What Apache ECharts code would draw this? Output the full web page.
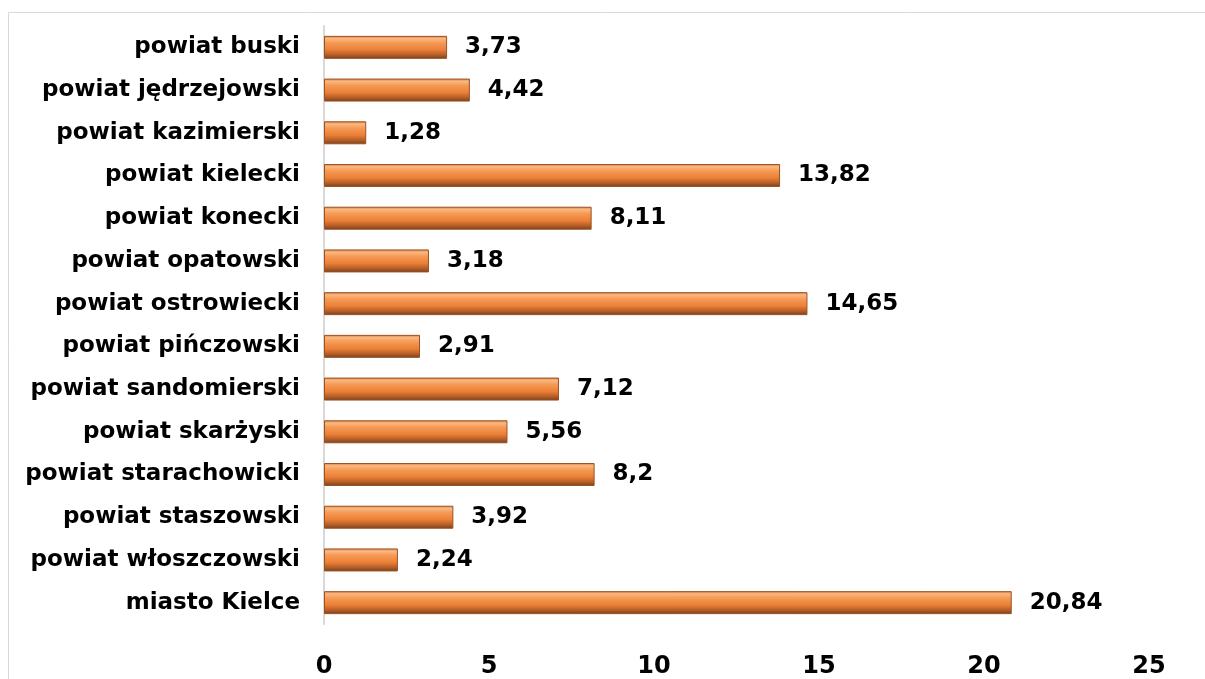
<!DOCTYPE html>
<html>
<head>
<meta charset="utf-8">
<script src="https://cdn.jsdelivr.net/npm/echarts@6/dist/echarts.min.js"></script>
<style>
  html, body { margin: 0; padding: 0; background: #fff; }
  #chart { width: 1205px; height: 679px; }
</style>
</head>
<body>
<div id="chart"></div>
<script>
const categories = [
  "powiat buski",
  "powiat jędrzejowski",
  "powiat kazimierski",
  "powiat kielecki",
  "powiat konecki",
  "powiat opatowski",
  "powiat ostrowiecki",
  "powiat pińczowski",
  "powiat sandomierski",
  "powiat skarżyski",
  "powiat starachowicki",
  "powiat staszowski",
  "powiat włoszczowski",
  "miasto Kielce"
];
const values = [3.73, 4.42, 1.28, 13.82, 8.11, 3.18, 14.65, 2.91, 7.12, 5.56, 8.2, 3.92, 2.24, 20.84];

var chartDom = document.getElementById("chart");
var chart = echarts.init(chartDom);
var font = "DejaVu Sans, Verdana, sans-serif";

var option = {
  animation: false,
  graphic: [
    {
      type: "rect",
      shape: { x: 8.5, y: 12.5, width: 1220, height: 700 },
      style: { fill: "none", stroke: "#d9d9d9", lineWidth: 1 }
    }
  ],
  grid: { left: 324, right: 56, top: 26, bottom: 55 },
  xAxis: {
    type: "value",
    min: 0,
    max: 25,
    interval: 5,
    splitLine: { show: false },
    axisLine: { show: false },
    axisTick: { show: false },
    axisLabel: {
      color: "#000",
      fontFamily: font,
      fontWeight: "bold",
      fontSize: 24,
      margin: 31
    }
  },
  yAxis: {
    type: "category",
    inverse: true,
    data: categories,
    axisLine: { show: true, lineStyle: { color: "#d9d9d9", width: 2 } },
    axisTick: { show: false },
    axisLabel: {
      color: "#000",
      fontFamily: font,
      fontWeight: "bold",
      fontSize: 23,
      margin: 24
    }
  },
  series: [
    {
      type: "bar",
      data: values,
      barWidth: 23,
      itemStyle: {
        color: new echarts.graphic.LinearGradient(0, 0, 0, 1, [
          { offset: 0, color: "#e07b39" },
          { offset: 0.12, color: "#f9b883" },
          { offset: 0.3, color: "#f59a55" },
          { offset: 0.6, color: "#ec8036" },
          { offset: 0.82, color: "#b55f2a" },
          { offset: 1, color: "#7a3f18" }
        ]),
        borderColor: "#9a5223",
        borderWidth: 1
      },
      label: {
        show: true,
        position: "right",
        distance: 18,
        color: "#000",
        fontFamily: font,
        fontWeight: "bold",
        fontSize: 23,
        formatter: function (p) {
          return String(p.value).replace(".", ",");
        }
      }
    }
  ]
};

option && chart.setOption(option);
</script>
</body>
</html>
